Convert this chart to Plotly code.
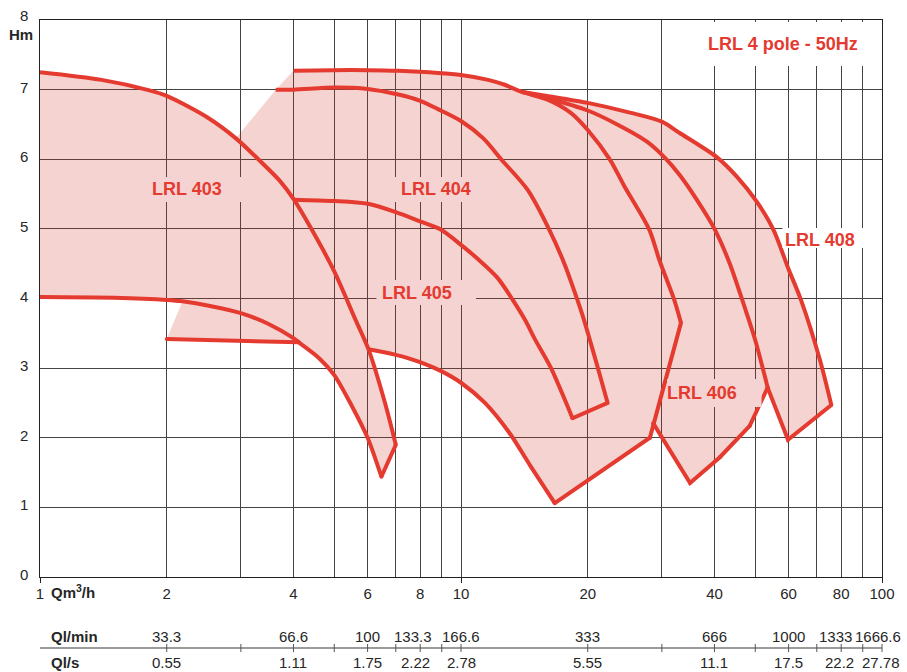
import math
import plotly.graph_objects as go

# ---------------------------------------------------------------
# LRL 4 pole - 50Hz pump curves: flow Q (m³/h) and head H (m)
# ---------------------------------------------------------------
Q403_MAX = [1.0, 1.4, 1.82, 2.0, 2.5, 2.92, 3.3, 3.7, 4.0, 4.42, 4.98, 5.62, 6.03, 6.6, 7.0]
H403_MAX = [7.25, 7.14, 6.99, 6.91, 6.6, 6.3, 6.0, 5.7, 5.43, 4.99, 4.41, 3.69, 3.27, 2.5, 1.9]
Q403_MIN = [1.0, 1.5, 2.0, 2.18, 2.5, 3.0, 3.5, 4.0, 4.12, 4.59, 5.0, 5.5, 6.0, 6.47]
H403_MIN = [4.02, 4.01, 3.98, 3.96, 3.90, 3.79, 3.63, 3.43, 3.37, 3.15, 2.90, 2.46, 2.0, 1.44]

Q404_MAX = [3.63, 4.0, 5.0, 6.0, 7.1, 8.0, 8.82, 10.0, 11.3, 12.5, 14.4, 16.2, 17.6, 18.9, 19.6, 21.1, 22.3]
H404_MAX = [7.0, 7.0, 7.03, 7.01, 6.93, 6.84, 6.72, 6.55, 6.3, 5.99, 5.56, 4.99, 4.5, 3.98, 3.69, 3.02, 2.5]
Q404_MIN = [4.0, 5.0, 6.0, 7.0, 8.05, 8.95, 10.0, 11.0, 12.2, 13.27, 14.2, 15.0, 16.3, 18.4]
H404_MIN = [5.42, 5.40, 5.36, 5.24, 5.10, 4.99, 4.77, 4.56, 4.30, 3.98, 3.69, 3.41, 3.02, 2.28]

Q405_MAX = [4.0, 5.0, 6.0, 7.1, 8.82, 10.0, 11.6, 12.7, 13.9, 16.0, 18.2, 20.0, 22.6, 24.4, 28.0, 29.6, 32.1, 33.3]
H405_MAX = [7.27, 7.28, 7.28, 7.27, 7.24, 7.21, 7.14, 7.07, 6.97, 6.86, 6.67, 6.42, 5.99, 5.62, 4.99, 4.55, 3.98, 3.65]
Q405_MIN = [6.03, 7.0, 8.05, 8.95, 10.0, 11.4, 13.1, 14.6, 16.7]
H405_MIN = [3.27, 3.19, 3.08, 2.96, 2.79, 2.50, 2.05, 1.60, 1.06]

Q406_MAX = [13.9, 16.0, 20.0, 23.5, 27.7, 30.4, 33.0, 36.3, 40.0, 43.5, 47.5, 50.0, 52.8, 53.5]
H406_MAX = [6.97, 6.88, 6.70, 6.50, 6.25, 6.03, 5.78, 5.42, 5.0, 4.5, 3.82, 3.40, 2.86, 2.72]

Q408_MAX = [13.9, 16.0, 20.0, 25.2, 30.0, 33.0, 40.5, 45.2, 50.4, 55.2, 60.0, 64.2, 71.2, 75.8]
H408_MAX = [6.97, 6.91, 6.81, 6.67, 6.54, 6.38, 6.03, 5.75, 5.39, 4.99, 4.42, 3.98, 3.12, 2.47]

# straight closing edges at the far end of each working range
Q405_TAIL = [33.3, 28.1, 16.7]
H405_TAIL = [3.65, 2.0, 1.06]
Q406_TAIL = [53.5, 48.5, 41.2, 35.0, 28.6]
H406_TAIL = [2.72, 2.17, 1.72, 1.35, 2.21]
Q408_TAIL = [75.8, 59.8, 53.5]
H408_TAIL = [2.47, 1.97, 2.72]

# lower limit of the working field between 2 and 4 m³/h
Q_BASE = [2.0, 4.12]
H_BASE = [3.42, 3.37]

# axis ticks
GRID_Q = [1, 2, 3, 4, 5, 6, 7, 8, 9, 10, 20, 30, 40, 50, 60, 70, 80, 90, 100]
LABELLED_Q = [1, 2, 4, 6, 8, 10, 20, 40, 60, 80, 100]
DECADE_Q = [1, 10, 100]
H_TICKS = [0, 1, 2, 3, 4, 5, 6, 7, 8]

# conversion table below the chart
TABLE_Q = [2, 4, 6, 8, 10, 20, 40, 60, 80, 100]
QL_MIN = ["33.3", "66.6", "100", "133.3", "166.6", "333", "666", "1000", "1333", "1666.6"]
QL_S = ["0.55", "1.11", "1.75", "2.22", "2.78", "5.55", "11.1", "17.5", "22.2", "27.78"]
QL_MIN_SHIFT = [0, 0, 0, -7, 0, 0, 0, 0, -6, -4]
QL_S_SHIFT = [0, 0, 0, -5, 0, 0, 0, 0, -2, -1]

# ---------------------------------------------------------------
RED = "#E53A2F"
FILL_RGB = (205, 45, 40)
FILL_A = 0.21
FILL = "rgba(%d,%d,%d,%.2f)" % (*FILL_RGB, FILL_A)
FILL_SOLID = "rgb(%d,%d,%d)" % tuple(round(255 - FILL_A * (255 - c)) for c in FILL_RGB)
INK = "#262626"
GRID = "#444444"
FONT = "Liberation Sans, Arial, sans-serif"

W, H = 907, 672
ML, MR, MT, MB = 40, 21, 20, 95
PW, PH = W - ML - MR, H - MT - MB


def px_x(px):
    return (px - ML) / PW


def px_y(py):
    return (H - MB - py) / PH


def pts(q, h):
    return list(zip(q, h))


U3, L3 = pts(Q403_MAX, H403_MAX), pts(Q403_MIN, H403_MIN)
U4, L4 = pts(Q404_MAX, H404_MAX), pts(Q404_MIN, H404_MIN)
U5, L5 = pts(Q405_MAX, H405_MAX), pts(Q405_MIN, H405_MIN)
U6, U8 = pts(Q406_MAX, H406_MAX), pts(Q408_MAX, H408_MAX)
T405, T406, T408 = pts(Q405_TAIL, H405_TAIL), pts(Q406_TAIL, H406_TAIL), pts(Q408_TAIL, H408_TAIL)
BASE = pts(Q_BASE, H_BASE)

# outline of the whole shaded working field
field = (U3[:6] + U4[:1] + U5[:9] + U8[1:] + T408[1:] + T406[1:] + T405[1:]
         + L5[-2::-1] + U3[13:] + L3[:7:-1] + BASE[:1] + L3[3::-1])

fig = go.Figure()
fig.add_trace(go.Scatter(
    x=[p[0] for p in field], y=[p[1] for p in field], mode="lines",
    fill="toself", fillcolor=FILL, line=dict(width=0, color=FILL),
    hoverinfo="skip", showlegend=False))

# smooth characteristic curves
for c in [U3, L3, U4, L4, U5, L5, U6, U8]:
    fig.add_trace(go.Scatter(
        x=[p[0] for p in c], y=[p[1] for p in c], mode="lines",
        line=dict(color=RED, width=4, shape="spline", smoothing=0.8),
        hoverinfo="skip", showlegend=False))

# straight edges closing each range (joints rounded by small dots)
edges = [[U3[-1], L3[-1]], BASE, [U4[-1], L4[-1]], T405, T406, T408]
for c in edges:
    fig.add_trace(go.Scatter(
        x=[p[0] for p in c], y=[p[1] for p in c], mode="lines+markers",
        line=dict(color=RED, width=4), marker=dict(color=RED, size=4),
        hoverinfo="skip", showlegend=False))

# carrier for the decade tick marks
fig.add_trace(go.Scatter(x=[], y=[], xaxis="x2", yaxis="y", showlegend=False, hoverinfo="skip"))

fig.update_layout(
    width=W, height=H, margin=dict(l=ML, r=MR, t=MT, b=MB),
    paper_bgcolor="white", plot_bgcolor="white",
    font=dict(family=FONT, color=INK, size=15),
    xaxis=dict(
        type="log", range=[0, 2], tickmode="array", tickvals=GRID_Q,
        ticktext=[str(q) if q in LABELLED_Q else "" for q in GRID_Q],
        showgrid=True, gridcolor=GRID, gridwidth=1, zeroline=False,
        ticks="outside", ticklen=3, tickcolor="rgba(0,0,0,0)",
        showline=True, linecolor="#222", linewidth=1, mirror=True,
        tickfont=dict(size=15, color=INK, family=FONT)),
    xaxis2=dict(
        type="log", range=[0, 2], overlaying="x", anchor="y", side="bottom",
        tickmode="array", tickvals=DECADE_Q, ticks="outside", ticklen=5,
        tickcolor="#222", tickwidth=1, showticklabels=False, showgrid=False,
        zeroline=False, showline=False),
    yaxis=dict(
        range=[0, 8], tickmode="array", tickvals=H_TICKS, showticklabels=False,
        showgrid=True, gridcolor=GRID, gridwidth=1, zeroline=False, ticks="",
        showline=True, linecolor="#222", linewidth=1, mirror=True),
)

# label backgrounds (hide the grid behind each caption)
shapes = []
boxes = [
    (148, 248, 177, 202, FILL_SOLID),
    (396, 496, 177, 202, FILL_SOLID),
    (378, 478, 280, 305, FILL_SOLID),
    (670, 765, 379, 407, FILL_SOLID),
    (786, 886, 228, 248, "white"),
    (700, 885, 22, 66, "white"),
]
for x0, x1, y0, y1, col in boxes:
    shapes.append(dict(type="rect", xref="paper", yref="paper", layer="above",
                       x0=px_x(x0), x1=px_x(x1), y0=px_y(y1), y1=px_y(y0),
                       fillcolor=col, line=dict(width=0)))

# separator of the conversion table with its tick marks
sep_y = px_y(648)
shapes.append(dict(type="line", xref="paper", yref="paper", x0=0, x1=1, y0=sep_y, y1=sep_y,
                   line=dict(color="#7a7a7a", width=1.5)))
for q in GRID_Q[1:]:
    xp = math.log10(q) / 2
    shapes.append(dict(type="line", xref="paper", yref="paper", x0=xp, x1=xp,
                       y0=sep_y - 4 / PH, y1=sep_y + 4 / PH,
                       line=dict(color="#555", width=1)))
fig.update_layout(shapes=shapes)

ann = []
# head scale labels, sitting slightly above their grid lines
for v in H_TICKS:
    ann.append(dict(text=str(v), xref="paper", yref="y", x=px_x(30), y=v,
                    yshift=4.5 if v == H_TICKS[-1] else 2.5,
                    xanchor="right", yanchor="middle", showarrow=False,
                    font=dict(size=15, color=INK, family=FONT)))
labels = [("LRL 403", 153, 189), ("LRL 404", 403, 189), ("LRL 405", 384, 293),
          ("LRL 406", 670, 393), ("LRL 408", 789, 240)]
for txt, lx, cy in labels:
    ann.append(dict(text="<b>%s</b>" % txt, xref="paper", yref="paper",
                    x=px_x(lx - 2), y=px_y(cy), xanchor="left", yanchor="middle",
                    showarrow=False, font=dict(size=18, color=RED, family=FONT)))
ann.append(dict(text="<b>LRL 4 pole - 50Hz</b>", xref="paper", yref="paper",
                x=px_x(787), y=px_y(44), xanchor="center", yanchor="middle",
                showarrow=False, font=dict(size=18, color=RED, family=FONT)))
ann.append(dict(text="<b>Hm</b>", xref="paper", yref="paper", x=px_x(21), y=px_y(35),
                xanchor="center", yanchor="middle", showarrow=False,
                font=dict(size=15, color=INK, family=FONT)))
ann.append(dict(text="<b>Qm<sup>3</sup>/h</b>", xref="paper", yref="paper", x=px_x(49),
                y=px_y(591), xanchor="left", yanchor="middle", showarrow=False,
                font=dict(size=15, color=INK, family=FONT)))
ann.append(dict(text="<b>Ql/min</b>", xref="paper", yref="paper", x=px_x(49), y=px_y(636),
                xanchor="left", yanchor="middle", showarrow=False,
                font=dict(size=15, color=INK, family=FONT)))
ann.append(dict(text="<b>Ql/s</b>", xref="paper", yref="paper", x=px_x(49), y=px_y(662),
                xanchor="left", yanchor="middle", showarrow=False,
                font=dict(size=15, color=INK, family=FONT)))
for q, t, s in zip(TABLE_Q, QL_MIN, QL_MIN_SHIFT):
    ann.append(dict(text=t, xref="paper", yref="paper", x=math.log10(q) / 2, y=px_y(636),
                    xshift=s, xanchor="center", yanchor="middle", showarrow=False,
                    font=dict(size=15, color=INK, family=FONT)))
for q, t, s in zip(TABLE_Q, QL_S, QL_S_SHIFT):
    ann.append(dict(text=t, xref="paper", yref="paper", x=math.log10(q) / 2, y=px_y(662),
                    xshift=s, xanchor="center", yanchor="middle", showarrow=False,
                    font=dict(size=15, color=INK, family=FONT)))
fig.update_layout(annotations=ann)

fig.write_html("out.html")
